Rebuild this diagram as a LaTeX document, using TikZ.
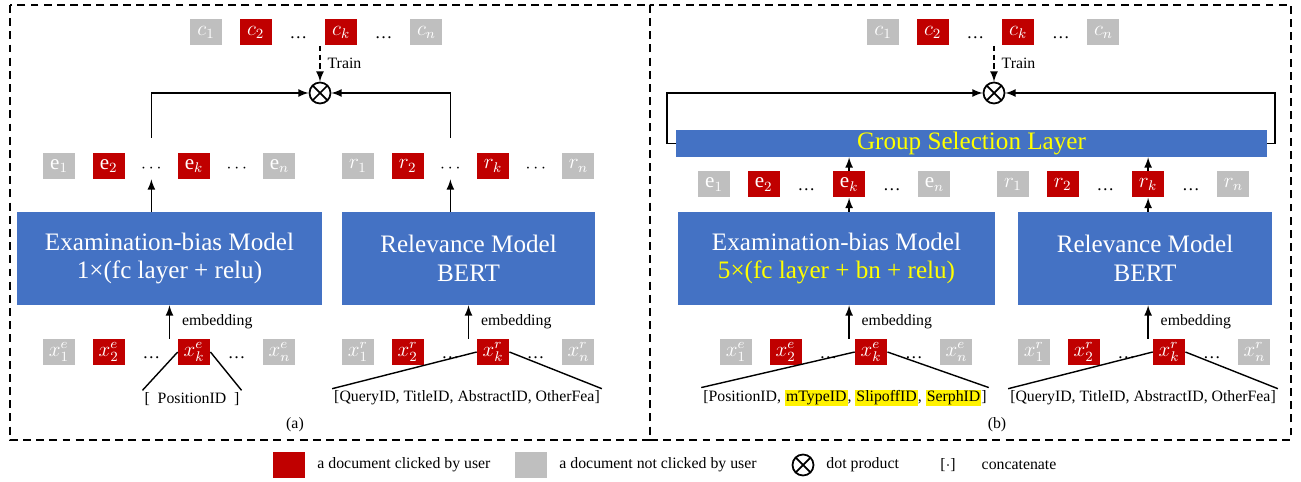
\documentclass[tikz,border=0pt]{standalone}
\usepackage{fontspec}
\setmainfont{Liberation Serif}
\usetikzlibrary{positioning}
\definecolor{clickred}{HTML}{C00000}
\definecolor{docgray}{HTML}{BFBFBF}
\definecolor{modelblue}{HTML}{4472C4}
\definecolor{newyellow}{HTML}{FFFF00}
\setlength{\fboxsep}{0.6pt}

\begin{document}
\begin{tikzpicture}[x=0.02cm, y=-0.02cm]
	\tikzstyle{doc}=[rectangle, minimum width=6.4mm, minimum height=5.2mm, inner sep=0pt, text=white, font=\large, node distance=3.4mm]
	\tikzstyle{hit}=[doc, fill=clickred]
	\tikzstyle{miss}=[doc, fill=docgray]
	\tikzstyle{gap}=[doc, text=black, font=\normalsize, text height=2.6mm, text depth=0pt]
	\tikzstyle{model}=[rectangle, fill=modelblue, text=white, align=center, inner sep=0pt, minimum height=18.6mm, font=\fontsize{14.3}{16.5}\selectfont]
	\tikzstyle{note}=[inner sep=1pt, font=\fontsize{9}{11}\selectfont]
	\tikzstyle{prod}=[circle, draw, line width=1pt, minimum size=4.2mm, inner sep=0pt, path picture={\draw[line width=1pt] (path picture bounding box.north west) -- (path picture bounding box.south east) (path picture bounding box.north east) -- (path picture bounding box.south west);}]
	\tikzstyle{connect}=[-latex, line width=1pt]
	\tikzstyle{train}=[-latex, line width=1pt, dash pattern=on 3pt off 2pt]
	\tikzstyle{panel}=[draw, line width=1.1pt, dash pattern=on 4.5pt off 3pt]

	\useasboundingbox (0,0) rectangle (1301,482);

	% (a)
	\node[miss] (c1A) at (206,32.5) {$c_1$};
	\node[hit] (c2A) [right=of c1A] {$c_2$};
	\node[gap] (cdA1) [right=2mm of c2A] {\dots};
	\node[hit] (ckA) [right=2mm of cdA1] {$c_k$};
	\node[gap] (cdA2) [right=2mm of ckA] {\dots};
	\node[miss] (cnA) [right=2mm of cdA2] {$c_n$};
	\node[prod] (prodA) at (320,93) {};

	\node[miss] (e1A) at (59,166) {$\mathrm{e}_1$};
	\node[hit] (e2A) [right=of e1A] {$\mathrm{e}_2$};
	\node[gap] (edA1) [right=2mm of e2A] {$\cdots$};
	\node[hit] (ekA) [right=2mm of edA1] {$\mathrm{e}_k$};
	\node[gap] (edA2) [right=2mm of ekA] {$\cdots$};
	\node[miss] (enA) [right=2mm of edA2] {$\mathrm{e}_n$};

	\node[miss] (r1A) at (358,166) {$r_1$};
	\node[hit] (r2A) [right=of r1A] {$r_2$};
	\node[gap] (rdA1) [right=2mm of r2A] {$\cdots$};
	\node[hit] (rkA) [right=2mm of rdA1] {$r_k$};
	\node[gap] (rdA2) [right=2mm of rkA] {$\cdots$};
	\node[miss] (rnA) [right=2mm of rdA2] {$r_n$};

	\node[model, minimum width=61mm] (examA) at (169.5,258.5) {Examination-bias Model\\1×(fc layer + relu)};
	\node[model, minimum width=50.6mm] (relA) at (468.5,258.5) {Relevance Model\\BERT};

	\node[miss] (x1A) at (59,352) {$x^e_1$};
	\node[hit] (x2A) [right=of x1A] {$x^e_2$};
	\node[gap] (xdA1) [right=2mm of x2A] {\dots};
	\node[hit] (xkA) [right=2mm of xdA1] {$x^e_k$};
	\node[gap] (xdA2) [right=2mm of xkA] {\dots};
	\node[miss] (xnA) [right=2mm of xdA2] {$x^e_n$};

	\node[miss] (xr1A) at (358,352) {$x^r_1$};
	\node[hit] (xr2A) [right=of xr1A] {$x^r_2$};
	\node[gap] (xrdA1) [right=2mm of xr2A] {\dots};
	\node[hit] (xrkA) [right=2mm of xrdA1] {$x^r_k$};
	\node[gap] (xrdA2) [right=2mm of xrkA] {\dots};
	\node[miss] (xrnA) [right=2mm of xrdA2] {$x^r_n$};

	\node[note] (posA) at (192,399) {[\enspace PositionID\enspace]};
	\node[note] (queryA) at (467,398) {[QueryID, TitleID, AbstractID, OtherFea]};
	\node[note] (capA) at (295,425) {(a)};

	\draw[train] (prodA |- ckA.south) -- node[note, right=1mm] {Train} (prodA);
	\draw[connect] ([yshift=3mm]edA1.north) |- (prodA);
	\draw[connect] ([yshift=3mm]rdA1.north) |- (prodA);
	\draw[connect] (examA.north -| edA1) -- (edA1.south);
	\draw[connect] (relA.north -| rdA1) -- (rdA1.south);
	\draw[connect] (examA.south |- xkA.north) -- node[note, right=2mm] {embedding} (examA.south);
	\draw[connect] (relA.south |- xrkA.north) -- node[note, right=2mm] {embedding} (relA.south);
	\draw[thick] (xkA.west) -- (posA.north west);
	\draw[thick] (xkA.east) -- (posA.north east);
	\draw[thick] (xrkA.west) -- (queryA.north west);
	\draw[thick] (xrkA.east) -- (queryA.north east);

	% (b)
	\node[miss] (c1B) at (883,32.5) {$c_1$};
	\node[hit] (c2B) [right=of c1B] {$c_2$};
	\node[gap] (cdB1) [right=2mm of c2B] {\dots};
	\node[hit] (ckB) [right=2mm of cdB1] {$c_k$};
	\node[gap] (cdB2) [right=2mm of ckB] {\dots};
	\node[miss] (cnB) [right=2mm of cdB2] {$c_n$};
	\node[prod] (prodB) at (994,93) {};

	\node[model, minimum width=118.2mm, minimum height=5.4mm, text=newyellow] (gsl) at (971.5,143.5) {Group Selection Layer};

	\node[miss] (e1B) at (714,184.5) {$\mathrm{e}_1$};
	\node[hit] (e2B) [right=of e1B] {$\mathrm{e}_2$};
	\node[gap] (edB1) [right=2mm of e2B] {\dots};
	\node[hit] (ekB) [right=2mm of edB1] {$\mathrm{e}_k$};
	\node[gap] (edB2) [right=2mm of ekB] {\dots};
	\node[miss] (enB) [right=2mm of edB2] {$\mathrm{e}_n$};

	\node[miss] (r1B) at (1013,184.5) {$r_1$};
	\node[hit] (r2B) [right=of r1B] {$r_2$};
	\node[gap] (rdB1) [right=2mm of r2B] {\dots};
	\node[hit] (rkB) [right=2mm of rdB1] {$r_k$};
	\node[gap] (rdB2) [right=2mm of rkB] {\dots};
	\node[miss] (rnB) [right=2mm of rdB2] {$r_n$};

	\node[model, minimum width=63.4mm] (examB) at (836.5,258.5) {Examination-bias Model\\\textcolor{newyellow}{5×(fc layer + bn + relu)}};
	\node[model, minimum width=50.8mm] (relB) at (1145,258.5) {Relevance Model\\BERT};

	\node[miss] (x1B) at (736,352) {$x^e_1$};
	\node[hit] (x2B) [right=of x1B] {$x^e_2$};
	\node[gap] (xdB1) [right=2mm of x2B] {\dots};
	\node[hit] (xkB) [right=2mm of xdB1] {$x^e_k$};
	\node[gap] (xdB2) [right=2mm of xkB] {\dots};
	\node[miss] (xnB) [right=2mm of xdB2] {$x^e_n$};

	\node[miss] (xr1B) at (1034,352) {$x^r_1$};
	\node[hit] (xr2B) [right=of xr1B] {$x^r_2$};
	\node[gap] (xrdB1) [right=2mm of xr2B] {\dots};
	\node[hit] (xrkB) [right=2mm of xrdB1] {$x^r_k$};
	\node[gap] (xrdB2) [right=2mm of xrkB] {\dots};
	\node[miss] (xrnB) [right=2mm of xrdB2] {$x^r_n$};

	\node[note] (posB) at (845,398) {[PositionID, \colorbox{yellow}{mTypeID}, \colorbox{yellow}{SlipoffID}, \colorbox{yellow}{SerphID}]};
	\node[note] (queryB) at (1143,398) {[QueryID, TitleID, AbstractID, OtherFea]};
	\node[note] (capB) at (997,425) {(b)};

	\draw[train] (prodB |- ckB.south) -- node[note, right=1mm] {Train} (prodB);
	\draw[connect] (gsl.west) -- ++(-9,0) |- (prodB);
	\draw[connect] (gsl.east) -- ++(8,0) |- (prodB);
	\draw[connect] (examB.north -| ekB) -- (ekB.south);
	\draw[connect] (ekB.north) -- (gsl.south -| ekB);
	\draw[connect] (relB.north -| rkB) -- (rkB.south);
	\draw[connect] (rkB.north) -- (gsl.south -| rkB);
	\draw[connect] (ekB |- xkB.north) -- node[note, right=2mm] {embedding} (ekB |- examB.south);
	\draw[connect] (rkB |- xrkB.north) -- node[note, right=2mm] {embedding} (rkB |- relB.south);
	\draw[thick] (xkB.west) -- (posB.north west);
	\draw[thick] (xkB.east) -- (posB.north east);
	\draw[thick] (xrkB.west) -- (queryB.north west);
	\draw[thick] (xrkB.east) -- (queryB.north east);

	% frames
	\draw[panel] (10,5) rectangle (650,440);
	\draw[panel] (650,5) rectangle (1291,440);

	% legend
	\node[hit] (keyHit) at (289,465) {};
	\node[note, right=2mm of keyHit] (keyHitText) {a document clicked by user};
	\node[miss] (keyMiss) at (531,465) {};
	\node[note, right=2mm of keyMiss] (keyMissText) {a document not clicked by user};
	\node[prod] (keyProd) at (803,465) {};
	\node[note, right=2mm of keyProd] (keyProdText) {dot product};
	\node[note] (keyCat) at (948,465) {[$\cdot$]};
	\node[note, right=4.4mm of keyCat] (keyCatText) {concatenate};
\end{tikzpicture}
\end{document}
